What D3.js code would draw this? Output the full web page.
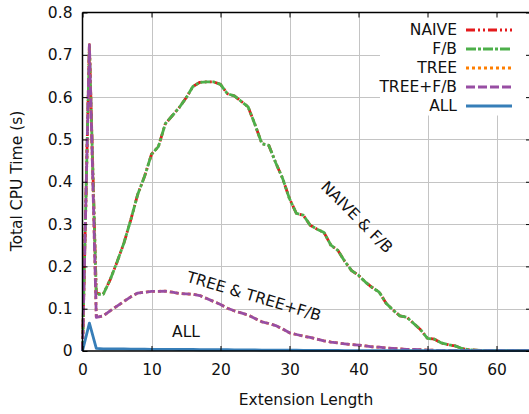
<!DOCTYPE html>
<html>
<head>
<meta charset="utf-8">
<script src="https://cdn.jsdelivr.net/npm/d3@7"></script>
<style>
body { margin: 0; background: #fff; }
text { font-family: "DejaVu Sans", Verdana, sans-serif; }
</style>
</head>
<body>
<div id="chart"></div>
<script>
// data, one value per extension length 0..65

var xs = d3.range(0, 66)

var naive = [0, 0.724, 0.137, 0.134, 0.168, 0.21, 0.255, 0.31, 0.37, 0.413,
    0.465, 0.483, 0.537, 0.556, 0.575, 0.598, 0.625, 0.635, 0.636, 0.636,
    0.630, 0.608, 0.603, 0.590, 0.577, 0.535, 0.490, 0.486, 0.445, 0.408,
    0.360, 0.325, 0.321, 0.297, 0.288, 0.280, 0.250, 0.238, 0.212, 0.190,
    0.179, 0.163, 0.150, 0.139, 0.113, 0.097, 0.083, 0.080, 0.065, 0.050,
    0.030, 0.028, 0.019, 0.015, 0.012, 0.006, 0.003, 0.002, 0.001, 0.001,
    0.001, 0.001, 0.001, 0.001, 0.001, 0.001]

var fb = [0, 0.722, 0.134, 0.134, 0.168, 0.21, 0.255, 0.31, 0.37, 0.413,
    0.465, 0.483, 0.537, 0.556, 0.575, 0.598, 0.625, 0.635, 0.636, 0.636,
    0.630, 0.608, 0.603, 0.590, 0.577, 0.535, 0.490, 0.486, 0.445, 0.408,
    0.360, 0.325, 0.321, 0.297, 0.288, 0.280, 0.250, 0.238, 0.212, 0.190,
    0.179, 0.163, 0.150, 0.139, 0.113, 0.097, 0.083, 0.080, 0.065, 0.050,
    0.030, 0.028, 0.019, 0.015, 0.012, 0.006, 0.003, 0.002, 0.001, 0.001,
    0.001, 0.001, 0.001, 0.001, 0.001, 0.001]

var tree = [0, 0.724, 0.0795, 0.083, 0.095, 0.106, 0.117, 0.128, 0.137, 0.139,
    0.141, 0.141, 0.1416, 0.139, 0.136, 0.135, 0.134, 0.131, 0.124, 0.117,
    0.110, 0.101, 0.095, 0.090, 0.085, 0.077, 0.069, 0.065, 0.060, 0.052,
    0.043, 0.039, 0.035, 0.032, 0.028, 0.024, 0.021, 0.019, 0.017, 0.015,
    0.014, 0.012, 0.010, 0.009, 0.007, 0.006, 0.005, 0.004, 0.004, 0.003,
    0.002, 0.002, 0.001, 0.001, 0.001, 0.001, 0.001, 0.001, 0.001, 0.001,
    0.001, 0.001, 0.001, 0.001, 0.001, 0.001]

var treefb = tree.slice()

var all = [0, 0.066, 0.006, 0.005, 0.005, 0.005, 0.005, 0.0045, 0.0045, 0.0045,
    0.004, 0.004, 0.004, 0.004, 0.0035, 0.0035, 0.0035, 0.003, 0.003, 0.003,
    0.003, 0.003, 0.0025, 0.0025, 0.0025, 0.0025, 0.002, 0.002, 0.002, 0.002,
    0.002, 0.002, 0.0015, 0.0015, 0.0015, 0.0015, 0.0015, 0.0015, 0.001, 0.001,
    0.001, 0.001, 0.001, 0.001, 0.001, 0.001, 0.001, 0.001, 0.001, 0.001,
    0.001, 0.001, 0.001, 0.001, 0.001, 0.001, 0.001, 0.001, 0.001, 0.001,
    0.001, 0.001, 0.001, 0.001, 0.001, 0.001]

var seriesNames = ["NAIVE", "F/B", "TREE", "TREE+F/B", "ALL"]
var seriesValues = [naive, fb, tree, treefb, all]
var seriesColors = ["#e41a1c", "#4daf4a", "#ff7f00", "#984ea3", "#377eb8"]
var seriesDash = ["9,3,2,3,2,3", "10,2,3,2", "3,3", "9,3", null]

var xTicks = [0, 10, 20, 30, 40, 50, 60]
var yTicks = [0, 0.1, 0.2, 0.3, 0.4, 0.5, 0.6, 0.7, 0.8]

//setup SVG

var w = 529
var h = 414
var mLeft = 82.5, mRight = 531, mTop = 12.5, mBottom = 351
var fs = 15.5

var svg = d3.select("#chart")
    .append("svg")
    .attr("width", w)
    .attr("height", h)

var x = d3.scaleLinear().domain([0, 65]).range([mLeft, mRight])
var y = d3.scaleLinear().domain([0, 0.8]).range([mBottom, mTop])

// grid

svg.append("g")
    .selectAll("line")
    .data(xTicks.slice(1))
    .enter()
    .append("line")
    .attr("x1", d => Math.round(x(d)) + 0.5)
    .attr("x2", d => Math.round(x(d)) + 0.5)
    .attr("y1", mTop)
    .attr("y2", mBottom)
    .attr("stroke", "#c4c4c4")
    .attr("stroke-width", 1)

svg.append("g")
    .selectAll("line")
    .data(yTicks.slice(1, -1))
    .enter()
    .append("line")
    .attr("x1", mLeft)
    .attr("x2", mRight)
    .attr("y1", d => Math.round(y(d)) + 0.5)
    .attr("y2", d => Math.round(y(d)) + 0.5)
    .attr("stroke", "#c4c4c4")
    .attr("stroke-width", 1)

// lines

var line = d3.line()
    .x((d, i) => x(xs[i]))
    .y(d => y(d))

seriesValues.forEach(function(vals, k){
    svg.append("path")
        .attr("d", line(vals))
        .attr("fill", "none")
        .attr("stroke", seriesColors[k])
        .attr("stroke-width", 2.8)
        .attr("stroke-dasharray", seriesDash[k])
        .attr("stroke-linejoin", "round")
})

// axes with inward ticks

var axisB = d3.axisBottom(x).tickValues(xTicks).tickSize(-5).tickPadding(13).tickFormat(d3.format("d"))
var axisT = d3.axisTop(x).tickValues(xTicks).tickSize(-5).tickFormat("")
var axisL = d3.axisLeft(y).tickValues(yTicks).tickSize(-5).tickPadding(10).tickFormat(d => d === 0 ? "0" : d3.format(".1f")(d))
var axisR = d3.axisRight(y).tickValues(yTicks).tickSize(-5).tickFormat("")

function styleAxis(g){
    g.select(".domain").remove()
    g.selectAll("line").attr("stroke", "#000")
    g.selectAll("text").attr("font-size", fs).attr("fill", "#111").attr("font-family", "DejaVu Sans")
}

// legend box hides grid behind it
svg.append("rect")
    .attr("x", 380)
    .attr("y", mTop + 1)
    .attr("width", 160)
    .attr("height", 102)
    .attr("fill", "#fff")

svg.append("g").attr("transform", "translate(0," + mBottom + ")").call(axisB).call(styleAxis)
svg.append("g").attr("transform", "translate(0," + mTop + ")").call(axisT).call(styleAxis)
svg.append("g").attr("transform", "translate(" + mLeft + ",0)").call(axisL).call(styleAxis)
svg.append("g").attr("transform", "translate(" + mRight + ",0)").call(axisR).call(styleAxis)

// frame
svg.append("line").attr("x1", mLeft).attr("x2", mLeft).attr("y1", mTop).attr("y2", mBottom).attr("stroke", "#000").attr("stroke-width", 1.5)
svg.append("line").attr("x1", mLeft).attr("x2", mRight).attr("y1", mBottom).attr("y2", mBottom).attr("stroke", "#000").attr("stroke-width", 1.5)
svg.append("line").attr("x1", mLeft).attr("x2", mRight).attr("y1", mTop).attr("y2", mTop).attr("stroke", "#000").attr("stroke-width", 1.5)

// legend

var legend = svg.append("g")
seriesNames.forEach(function(name, k){
    var ly = 30 + k * 19
    legend.append("text")
        .attr("x", 457)
        .attr("y", ly)
        .attr("dy", "0.35em")
        .attr("text-anchor", "end")
        .attr("font-size", fs)
        .attr("fill", "#111")
        .text(name)
    legend.append("line")
        .attr("x1", 466)
        .attr("x2", 512)
        .attr("y1", ly)
        .attr("y2", ly)
        .attr("stroke", seriesColors[k])
        .attr("stroke-width", 2.8)
        .attr("stroke-dasharray", seriesDash[k])
})

// axis titles

svg.append("text")
    .attr("x", 306)
    .attr("y", 400)
    .attr("dy", "0.35em")
    .attr("text-anchor", "middle")
    .attr("font-size", fs)
    .attr("fill", "#111")
    .text("Extension Length")

svg.append("text")
    .attr("transform", "translate(17,181) rotate(-90)")
    .attr("dy", "0.35em")
    .attr("text-anchor", "middle")
    .attr("font-size", fs)
    .attr("fill", "#111")
    .text("Total CPU Time (s)")

// annotations

svg.append("text")
    .attr("transform", "translate(357,217) rotate(45)")
    .attr("dy", "0.35em")
    .attr("text-anchor", "middle")
    .attr("font-size", fs)
    .attr("fill", "#111")
    .text("NAIVE & F/B")

svg.append("text")
    .attr("transform", "translate(254,296) rotate(16.5)")
    .attr("dy", "0.35em")
    .attr("text-anchor", "middle")
    .attr("font-size", fs)
    .attr("fill", "#111")
    .text("TREE & TREE+F/B")

svg.append("text")
    .attr("x", 186)
    .attr("y", 332)
    .attr("dy", "0.35em")
    .attr("text-anchor", "middle")
    .attr("font-size", fs)
    .attr("fill", "#111")
    .text("ALL")
</script>
</body>
</html>
